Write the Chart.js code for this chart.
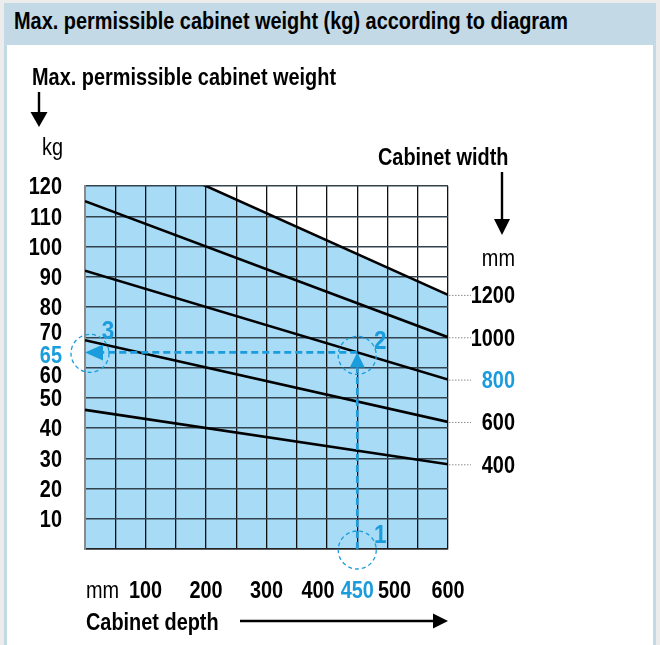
<!DOCTYPE html>
<html>
<head>
<meta charset="utf-8">
<script src="https://cdn.jsdelivr.net/npm/chart.js@4/dist/chart.umd.min.js"></script>
<style>
  html, body { margin: 0; padding: 0; }
  body { width: 660px; height: 645px; background: #ececec; position: relative; overflow: hidden; }
  #frame { position: absolute; left: 4px; top: 3px; width: 652px; height: 642px; background: #c3d9e6; }
  #band { position: absolute; left: 10px; top: 5px; height: 40px; line-height: 40px;
          font: bold 23px 'Liberation Sans Narrow', 'Arial Narrow', 'Liberation Sans', sans-serif; color: #000;
          white-space: nowrap; transform: scaleX(0.865); transform-origin: 0 50%; }
  #sheet { position: absolute; left: 3px; top: 42px; width: 646px; height: 600px; background: #fff; }
  #plot { position: absolute; left: 0; top: 0; }
</style>
</head>
<body>
<div id="frame">
  <div id="band">Max. permissible cabinet weight (kg) according to diagram</div>
  <div id="sheet"></div>
</div>
<canvas id="plot" width="660" height="645"></canvas>
<script>
// Cabinet depth (mm) along the bottom, permissible weight (kg) up the side
const depthRange = [0, 600];
const depthTicks = [100, 200, 300, 400, 450, 500, 600];
const kgRange = [0, 120];
const kgTicks = [10, 20, 30, 40, 50, 60, 65, 70, 80, 90, 100, 110, 120];

// One straight limit line per cabinet width: weight at 0 mm and at 600 mm depth
const cabinetWidths = [400, 600, 800, 1000, 1200];
const kgAtDepth0   = [46, 69, 92, 115, 138];
const kgAtDepth600 = [28, 42, 56, 70, 84];

// Worked example: 450 mm deep, 800 mm wide -> 65 kg
const exampleDepth = 450;
const exampleWidth = 800;
const exampleKg = 65;

const FONT = "'Liberation Sans Narrow', 'Arial Narrow', 'Liberation Sans', sans-serif";
const NARROW = 0.865;   // condensed lettering
const BLUE = '#1b9ddd';
const FILL = '#a7dbf6';

const datasets = cabinetWidths.map((w, i) => ({
  label: w + ' mm',
  data: [{ x: depthRange[0], y: kgAtDepth0[i] }, { x: depthRange[1], y: kgAtDepth600[i] }],
  borderColor: '#000',
  borderWidth: 2.6,
  pointRadius: 0,
  tension: 0,
  // the widest cabinet bounds the shaded permissible zone
  fill: w === Math.max(...cabinetWidths) ? 'origin' : false,
  backgroundColor: FILL
}));

function text(ctx, str, x, y, align, font, color) {
  ctx.save();
  ctx.font = font;
  ctx.fillStyle = color || '#000';
  ctx.textAlign = align;
  ctx.textBaseline = 'alphabetic';
  ctx.translate(x, y);
  ctx.scale(NARROW, 1);
  ctx.fillText(str, 0, 0);
  ctx.restore();
}

function arrowHead(ctx, tipX, tipY, dir, len, half) {
  ctx.beginPath();
  if (dir === 'down') { ctx.moveTo(tipX, tipY); ctx.lineTo(tipX - half, tipY - len); ctx.lineTo(tipX + half, tipY - len); }
  if (dir === 'up')   { ctx.moveTo(tipX, tipY); ctx.lineTo(tipX - half, tipY + len); ctx.lineTo(tipX + half, tipY + len); }
  if (dir === 'right'){ ctx.moveTo(tipX, tipY); ctx.lineTo(tipX - len, tipY - half); ctx.lineTo(tipX - len, tipY + half); }
  if (dir === 'left') { ctx.moveTo(tipX, tipY); ctx.lineTo(tipX + len, tipY - half); ctx.lineTo(tipX + len, tipY + half); }
  ctx.closePath();
  ctx.fill();
}

const BOLD = 'bold 23px ' + FONT;
const REG = '23px ' + FONT;
const STEP = 'bold 26px ' + FONT;

const exampleGuide = {
  id: 'exampleGuide',
  afterDatasetsDraw(chart) {
    const { ctx, scales: { x, y } } = chart;
    const gx = x.getPixelForValue(exampleDepth);
    const gy = y.getPixelForValue(exampleKg);
    const x0 = x.getPixelForValue(depthRange[0]);
    const y0 = y.getPixelForValue(kgRange[0]);
    ctx.save();
    ctx.strokeStyle = BLUE;
    ctx.fillStyle = BLUE;
    ctx.lineWidth = 2.6;
    ctx.setLineDash([7, 4]);
    ctx.beginPath();
    ctx.moveTo(gx, y0);
    ctx.lineTo(gx, gy + 15);
    ctx.moveTo(gx, gy);
    ctx.lineTo(x0 + 18, gy);
    ctx.stroke();
    ctx.setLineDash([]);
    arrowHead(ctx, gx, gy, 'up', 15, 7.5);
    arrowHead(ctx, x0, gy, 'left', 18, 8);

    ctx.lineWidth = 1.3;
    ctx.setLineDash([4, 3]);
    [[gx, y0 + 1], [gx, gy + 3], [x0 + 5, gy + 1]].forEach(([cx, cy]) => {
      ctx.beginPath();
      ctx.arc(cx, cy, 19, 0, Math.PI * 2);
      ctx.stroke();
    });
    ctx.restore();

    // step numbers of the worked example
    text(ctx, '1', gx + 23, y0 - 6, 'center', STEP, BLUE);
    text(ctx, '2', gx + 23, gy - 3, 'center', STEP, BLUE);
    text(ctx, '3', x0 + 23, gy - 13, 'center', STEP, BLUE);
  }
};

const labelsAndArrows = {
  id: 'labelsAndArrows',
  afterDraw(chart) {
    const { ctx, scales: { x, y } } = chart;

    // weight tick labels, 60 / 70 eased apart to make room for 65
    const kgNudge = { 70: -5.5, 65: 2, 60: 7.5 };
    kgTicks.forEach(v => {
      text(ctx, String(v), 62, y.getPixelForValue(v) + 8.3 + (kgNudge[v] || 0), 'right', BOLD,
           v === exampleKg ? BLUE : '#000');
    });

    // depth tick labels
    const depthNudge = { 400: -9, 500: 7 };
    depthTicks.forEach(v => {
      text(ctx, String(v), x.getPixelForValue(v) + (depthNudge[v] || 0), 598, 'center', BOLD,
           v === exampleDepth ? BLUE : '#000');
    });

    // width labels at the right-hand ends of the limit lines
    cabinetWidths.forEach((w, i) => {
      const py = y.getPixelForValue(kgAtDepth600[i]);
      ctx.save();
      ctx.strokeStyle = '#8c8c8c';
      ctx.lineWidth = 1;
      ctx.setLineDash([1.5, 1.5]);
      ctx.beginPath();
      ctx.moveTo(x.right + 1, py + 0.5);
      ctx.lineTo(x.right + 23, py + 0.5);
      ctx.stroke();
      ctx.restore();
      text(ctx, String(w), 515, py + 8.3, 'right', BOLD, w === exampleWidth ? BLUE : '#000');
    });

    // unit captions
    text(ctx, 'kg', 42, 155, 'left', REG);
    text(ctx, 'mm', 86, 598, 'left', REG);
    text(ctx, 'mm', 515, 266, 'right', REG);

    // axis titles
    text(ctx, 'Max. permissible cabinet weight', 32, 85, 'left', BOLD);
    text(ctx, 'Cabinet width', 378, 165, 'left', BOLD);
    text(ctx, 'Cabinet depth', 86, 630, 'left', BOLD);

    // direction arrows
    ctx.save();
    ctx.strokeStyle = '#000';
    ctx.fillStyle = '#000';
    ctx.lineWidth = 2.4;
    ctx.beginPath();
    ctx.moveTo(39, 92); ctx.lineTo(39, 113);
    ctx.moveTo(502, 172); ctx.lineTo(502, 220);
    ctx.moveTo(240, 621); ctx.lineTo(434, 621);
    ctx.stroke();
    arrowHead(ctx, 39, 127, 'down', 15, 8.5);
    arrowHead(ctx, 502, 235, 'down', 16, 8);
    arrowHead(ctx, 448, 621, 'right', 15, 7.5);
    ctx.restore();
  }
};

new Chart(document.getElementById('plot'), {
  type: 'line',
  data: { datasets },
  options: {
    responsive: false,
    animation: false,
    events: [],
    layout: { padding: { left: 85, right: 212, top: 186, bottom: 96 } },
    plugins: {
      legend: { display: false },
      tooltip: { enabled: false },
      filler: { drawTime: 'beforeDraw' }
    },
    scales: {
      x: {
        type: 'linear',
        min: depthRange[0], max: depthRange[1],
        ticks: { display: false, stepSize: 50 },
        grid: { color: '#111', lineWidth: 1.3, drawTicks: false },
        border: { color: '#222', width: 1.5 },
        afterFit(scale) { scale.height = 0; }
      },
      y: {
        type: 'linear',
        min: kgRange[0], max: kgRange[1],
        ticks: { display: false, stepSize: 10 },
        grid: { color: '#33434e', lineWidth: 1.5, drawTicks: false },
        border: { color: '#8a8a8a', width: 2 },
        afterFit(scale) { scale.width = 0; }
      }
    }
  },
  plugins: [exampleGuide, labelsAndArrows]
});
</script>
</body>
</html>
